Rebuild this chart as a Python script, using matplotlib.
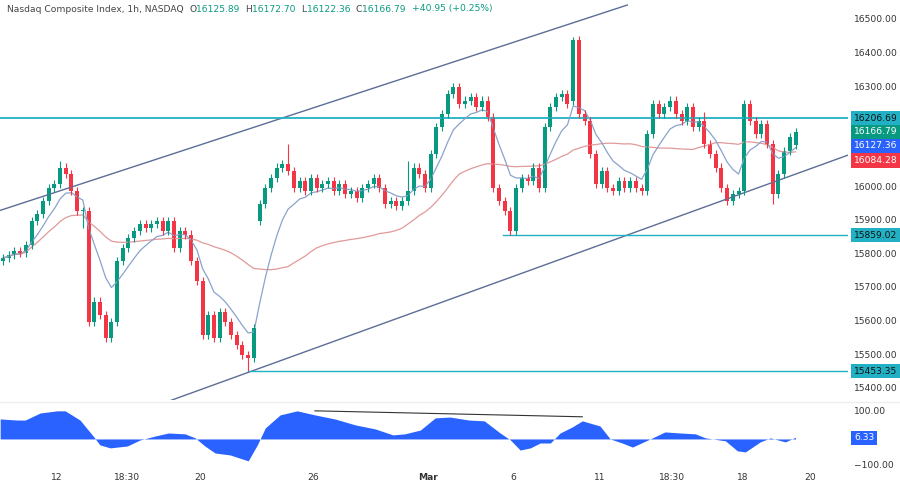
import numpy as np
import pandas as pd
import matplotlib
matplotlib.use("Agg")
import matplotlib.pyplot as plt

# Hourly closes (140 candles)
CLOSES = [
    15790, 15800, 15810, 15805, 15830, 15900, 15920, 15960, 16000, 16010, 16060, 16040, 15990, 15930,
    15930, 15600, 15660, 15620, 15550, 15600,
    15780, 15820, 15850, 15870, 15890, 15880, 15890, 15900, 15870, 15900, 15820, 15870, 15860, 15780,
    15720, 15560, 15620, 15550, 15630, 15600, 15560, 15530, 15500, 15490, 15580,
    15950, 16000, 16030, 16060, 16070, 16050, 16000, 16020, 15990, 16030, 16000,
    16010, 16020, 15990, 16010, 15980, 15990, 15970, 16000, 16010, 16030, 16000, 15950, 15960, 15945,
    15960, 15990, 16060, 16040, 16000,
    16100, 16180, 16220, 16280, 16300, 16250, 16260, 16270, 16240, 16260,
    16210, 16000, 15960, 15930, 15870, 16000, 16030, 16020, 16060, 16000,
    16180, 16240, 16270, 16280, 16250, 16440, 16220, 16200, 16100, 16010, 16050, 16000,
    15990, 16020, 16000, 16020, 16000, 15990, 16160, 16250, 16220, 16240, 16260,
    16220, 16200, 16240, 16180, 16200, 16130, 16100, 16060, 16000, 15960, 15980, 15990, 16250, 16200,
    16160, 16190, 16130, 15980, 16040, 16110, 16150, 16166.79,
]
OPEN_GAPS = {45: 15900, 100: 16260, 139: 16125.89}
HIGHS = {10: 16080, 50: 16130, 100: 16450, 123: 16225, 71: 16080}
LOWS = {43: 15453.35, 89: 15859.02, 135: 15950, 14: 15880}

# oscillator samples (candle index, value)
OSC_T = [-0.5, 2.5, 3.9, 6.5, 9.5, 10.9, 13.5, 15.8, 17, 18.8, 21.8, 24, 26.7, 29, 31.9, 33.7,
         35.4, 37.2, 39.8, 43, 44.6, 46, 48.6, 51.6, 54.7, 58.2, 61.8, 65.3, 68.4, 70.5, 73.2, 75.8,
         78.4, 81.7, 84.4, 87.2, 89, 90.7, 92.5, 94.2, 96, 97.7, 99.8, 101.6, 104.7, 106.5, 108.6,
         110.4, 113.5, 116.1, 118.8, 121.4, 123.2, 126.7, 128.8, 130.2, 132.8, 134.6, 137.2, 139]
OSC_V = [74, 70, 70, 96, 104, 104, 70, 11, -22, -33, -26, -4, 11, 22, 19, 4,
         -26, -52, -59, -81, -22, 41, 89, 104, 89, 74, 52, 37, 15, 19, 33, 78,
         81, 70, 67, 22, -4, -41, -33, -15, -15, 22, 44, 67, 48, 0, -15,
         -30, 0, 26, 22, 19, 4, -7, -44, -48, -11, 4, -11, 6.33]

TICK_POS = [9.5, 21.8, 34.6, 54.4, 74.6, 89.5, 104.6, 117.4, 129.7, 141.6]
TICK_LABELS = ["12", "18:30", "20", "26", "Mar", "6", "11", "18:30", "18", "20"]

GREEN = "#089981"
RED = "#f23645"
TEAL = "#22b1c4"
CHAN = "#5b6e96"
FS = 6.6

closes = np.array(CLOSES, dtype=float)
n = len(closes)
opens = np.r_[closes[0] - 10, closes[:-1]]
for k, v in OPEN_GAPS.items():
    opens[k] = v
highs = np.maximum(opens, closes) + 12
lows = np.minimum(opens, closes) - 12
for k, v in HIGHS.items():
    highs[k] = v
for k, v in LOWS.items():
    lows[k] = v
idx = np.arange(n)

s = pd.Series(closes)
fast = s.ewm(span=8).mean()
slow = s.rolling(36, min_periods=1).mean()

fig = plt.figure(figsize=(9, 4.88), dpi=100)
ax = fig.add_axes([0, 1 - 400 / 488, 848 / 900, 400 / 488])
ox = fig.add_axes([0, 1 - 466 / 488, 848 / 900, 63 / 488])
for a in (ax, ox):
    for sp in a.spines.values():
        sp.set_visible(False)
    a.tick_params(length=0)
    a.set_xticks([])
    a.set_yticks([])
    a.set_xlim(-0.53, 148.2)

ax.set_ylim(15366, 16560)

# channel and levels
ax.plot([-0.5, 109.5], [15932, 16545], color=CHAN, lw=1)
ax.plot([27.2, 148.2], [15351, 16097], color=CHAN, lw=1)
ax.axhline(16206.69, color=TEAL, lw=1.3)
ax.plot([87.7, 148.2], [15859.02] * 2, color=TEAL, lw=1)
ax.plot([43, 148.2], [15453.35] * 2, color=TEAL, lw=1)

ax.plot(idx, slow, color="#e09a9a", lw=0.9)
ax.plot(idx, fast, color="#8aa3cc", lw=0.9)

for i in idx:
    c = GREEN if closes[i] >= opens[i] else RED
    ax.vlines(i, lows[i], highs[i], color=c, lw=0.8)
    lo, hi = min(opens[i], closes[i]), max(opens[i], closes[i])
    ax.bar(i, max(hi - lo, 2), bottom=lo, width=0.7, color=c, linewidth=0)

# oscillator
ox.set_ylim(-100, 133)
ov = np.array(OSC_V)
ox.fill_between(OSC_T, ov, 0, color="#2962ff", lw=0)
ox.plot([54.7, 101.6], [104, 82], color="#333333", lw=0.8)
fig.add_artist(plt.Line2D([0, 1], [1 - 402 / 488] * 2, color="#eeeeee", lw=1))

# right labels
def label(y_pix, text, bg, fg="white"):
    fig.text(854 / 900, 1 - y_pix / 488, text, fontsize=FS, color=fg, va="center", ha="left",
             bbox=dict(boxstyle="square,pad=0.3", fc=bg, ec="none") if bg else None)

for p in [16500, 16400, 16300, 16000, 15900, 15800, 15700, 15600, 15500, 15400]:
    yp = 20 + (16500 - p) * 0.335
    label(yp, f"{p:.2f}", None, "#333333")
label(118.5, "16206.69", TEAL, "#111111")
label(132, "16166.79", GREEN)
label(146, "16127.36", "#2962ff")
label(160.5, "16084.28", RED)
label(235, "15859.02", TEAL, "#111111")
label(371, "15453.35", TEAL, "#111111")
label(412, "100.00", None, "#333333")
label(438, "6.33", "#2962ff")
label(465, "\u2212100.00", None, "#333333")

# x ticks
for p, t in zip(TICK_POS, TICK_LABELS):
    fig.text((p + 0.53) / 148.73 * 848 / 900, 1 - 478 / 488, t, fontsize=FS, color="#333333",
             ha="center", va="center", fontweight="bold" if t == "Mar" else "normal")

# header, laid out piece by piece
hy = 1 - 9 / 488
pieces = [("Nasdaq Composite Index, 1h, NASDAQ  ", "#444444"),
          ("O", "#444444"), ("16125.89  ", GREEN), ("H", "#444444"), ("16172.70  ", GREEN),
          ("L", "#444444"), ("16122.36  ", GREEN), ("C", "#444444"), ("16166.79  ", GREEN),
          ("+40.95 (+0.25%)", GREEN)]
r = fig.canvas.get_renderer()
xpos = 7
for txt, col in pieces:
    t = fig.text(xpos / 900, hy, txt, fontsize=FS, color=col, va="center")
    xpos += t.get_window_extent(r).width

fig.savefig("out.png", dpi=100)
